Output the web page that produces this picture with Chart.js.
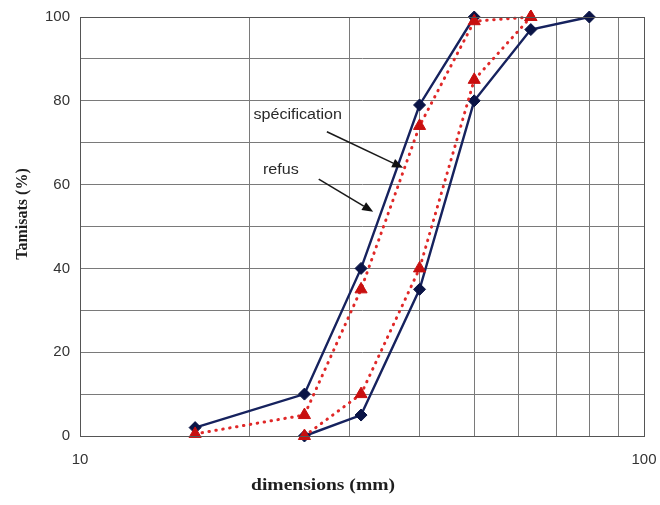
<!DOCTYPE html>
<html>
<head>
<meta charset="utf-8">
<script src="https://cdn.jsdelivr.net/npm/chart.js@4/dist/chart.umd.min.js"></script>
<style>
  html, body { margin: 0; padding: 0; background: #fff; }
  #wrap { width: 660px; height: 505px; }
</style>
</head>
<body>
<div id="wrap"><canvas id="c" width="660" height="505"></canvas></div>
<script>
// Sieve sizes (mm) and cumulative passing (%) for each curve
const specUpperSize  = [16, 25, 31.5, 40, 50];
const specUpperPass  = [2, 10, 40, 79, 100];
const specLowerSize  = [25, 31.5, 40, 50, 63, 80];
const specLowerPass  = [0, 5, 35, 80, 97, 100];
const refusUpperSize = [16, 25, 31.5, 40, 50, 63];
const refusUpperPass = [0.5, 5, 35, 74, 99, 100];
const refusLowerSize = [25, 31.5, 40, 50, 63];
const refusLowerPass = [0, 10, 40, 85, 100];

// Axis ticks
const xGridValues  = [10, 20, 30, 40, 50, 60, 70, 80, 90, 100];
const xLabelValues = [10, 100];
const yGridValues  = [0, 10, 20, 30, 40, 50, 60, 70, 80, 90, 100];
const yLabelValues = [0, 20, 40, 60, 80, 100];

// Callout labels with their arrows (data units)
const callouts = [
  { text: 'spécification', at: [20.3, 76.6], from: [27.4, 72.6], to: [37.4, 64.0] },
  { text: 'refus',         at: [21.1, 63.5], from: [26.5, 61.3], to: [33.1, 53.5] }
];

const toPoints = (xs, ys) => xs.map((x, i) => ({ x: x, y: ys[i] }));

const BLUE = '#16225e';
const BLUE_FILL = '#0a1446';
const RED = '#e02828';
const RED_FILL = '#c80f0f';

function blueSet(label, xs, ys) {
  return {
    label, data: toPoints(xs, ys), showLine: true,
    borderColor: BLUE, borderWidth: 2.4,
    pointStyle: 'rectRot', pointRadius: 6,
    pointBackgroundColor: BLUE_FILL, pointBorderColor: BLUE_FILL, pointBorderWidth: 1,
    clip: false
  };
}
function redSet(label, xs, ys) {
  return {
    label, data: toPoints(xs, ys), showLine: true,
    borderColor: RED, borderWidth: 3, borderDash: [0.5, 6.5], borderCapStyle: 'round',
    pointStyle: 'triangle', pointRadius: 7,
    pointBackgroundColor: RED_FILL, pointBorderColor: RED_FILL, pointBorderWidth: 1,
    clip: false
  };
}

function stretchedText(ctx, text, x, y, font, sx, align) {
  ctx.save();
  ctx.font = font;
  ctx.textAlign = align;
  ctx.textBaseline = 'middle';
  ctx.translate(x, y);
  ctx.scale(sx, 1);
  ctx.fillText(text, 0, 0);
  ctx.restore();
}

const decorations = {
  id: 'decorations',
  afterDraw(chart) {
    const ctx = chart.ctx;
    const xs = chart.scales.x, ys = chart.scales.y;
    const px = v => xs.getPixelForValue(v);
    const py = v => ys.getPixelForValue(v);

    // callouts: label + arrow
    ctx.save();
    ctx.strokeStyle = '#1a1a1a';
    callouts.forEach(c => {
      ctx.fillStyle = '#2a2a2a';
      stretchedText(ctx, c.text, px(c.at[0]), py(c.at[1]), '14px "Liberation Sans", Arial, sans-serif', 1.15, 'left');
      const x0 = px(c.from[0]), y0 = py(c.from[1]);
      const x1 = px(c.to[0]),   y1 = py(c.to[1]);
      const a = Math.atan2(y1 - y0, x1 - x0);
      const len = 11, half = 4.5;
      const bx = x1 - len * Math.cos(a), by = y1 - len * Math.sin(a);
      ctx.lineWidth = 1.6;
      ctx.beginPath();
      ctx.moveTo(x0, y0);
      ctx.lineTo(bx, by);
      ctx.stroke();
      ctx.beginPath();
      ctx.moveTo(x1, y1);
      ctx.lineTo(bx + half * Math.sin(a), by - half * Math.cos(a));
      ctx.lineTo(bx - half * Math.sin(a), by + half * Math.cos(a));
      ctx.closePath();
      ctx.fillStyle = '#111';
      ctx.fill();
    });
    ctx.restore();

    // axis titles
    ctx.save();
    ctx.fillStyle = '#1e1e1e';
    stretchedText(ctx, 'dimensions (mm)', 323, 486, 'bold 17px "Liberation Serif", "Times New Roman", serif', 1.15, 'center');
    ctx.translate(23, 214);
    ctx.rotate(-Math.PI / 2);
    stretchedText(ctx, 'Tamisats (%)', 0, 0, 'bold 16px "Liberation Serif", "Times New Roman", serif', 1.0, 'center');
    ctx.restore();

    // plot frame
    const ca = chart.chartArea;
    ctx.save();
    ctx.strokeStyle = '#555';
    ctx.lineWidth = 1;
    ctx.strokeRect(Math.round(ca.left) + 0.5, Math.round(ca.top) + 0.5,
                   Math.round(ca.right - ca.left), Math.round(ca.bottom - ca.top));
    ctx.restore();
  }
};

new Chart(document.getElementById('c'), {
  type: 'scatter',
  data: {
    datasets: [
      redSet('refus haut', refusUpperSize, refusUpperPass),
      redSet('refus bas', refusLowerSize, refusLowerPass),
      blueSet('spécification haut', specUpperSize, specUpperPass),
      blueSet('spécification bas', specLowerSize, specLowerPass)
    ]
  },
  options: {
    responsive: false,
    animation: false,
    devicePixelRatio: 1,
    layout: { padding: { left: 0, right: 16, top: 17, bottom: 0 } },
    plugins: { legend: { display: false }, tooltip: { enabled: false } },
    scales: {
      x: {
        type: 'logarithmic',
        min: 10, max: 100,
        afterBuildTicks: s => { s.ticks = xGridValues.map(v => ({ value: v })); },
        afterFit: s => { s.height = 69; s.paddingLeft = 0; s.paddingRight = 0; },
        grid: { color: '#7a7a7a', lineWidth: 1, drawTicks: false },
        border: { display: true, color: '#555', width: 1 },
        ticks: {
          autoSkip: false, maxRotation: 0, padding: 15,
          color: '#333',
          font: { family: '"Liberation Sans", Arial, sans-serif', size: 15 },
          callback: v => xLabelValues.includes(v) ? String(v) : ''
        }
      },
      y: {
        min: 0, max: 100,
        afterBuildTicks: s => { s.ticks = yGridValues.map(v => ({ value: v })); },
        afterFit: s => { s.width = 80; s.paddingTop = 0; s.paddingBottom = 0; },
        grid: { color: '#7a7a7a', lineWidth: 1, drawTicks: false },
        border: { display: true, color: '#555', width: 1 },
        ticks: {
          autoSkip: false, padding: 10,
          color: '#333',
          font: { family: '"Liberation Sans", Arial, sans-serif', size: 15 },
          callback: v => yLabelValues.includes(v) ? String(v) : ''
        }
      }
    }
  },
  plugins: [decorations]
});
</script>
</body>
</html>
